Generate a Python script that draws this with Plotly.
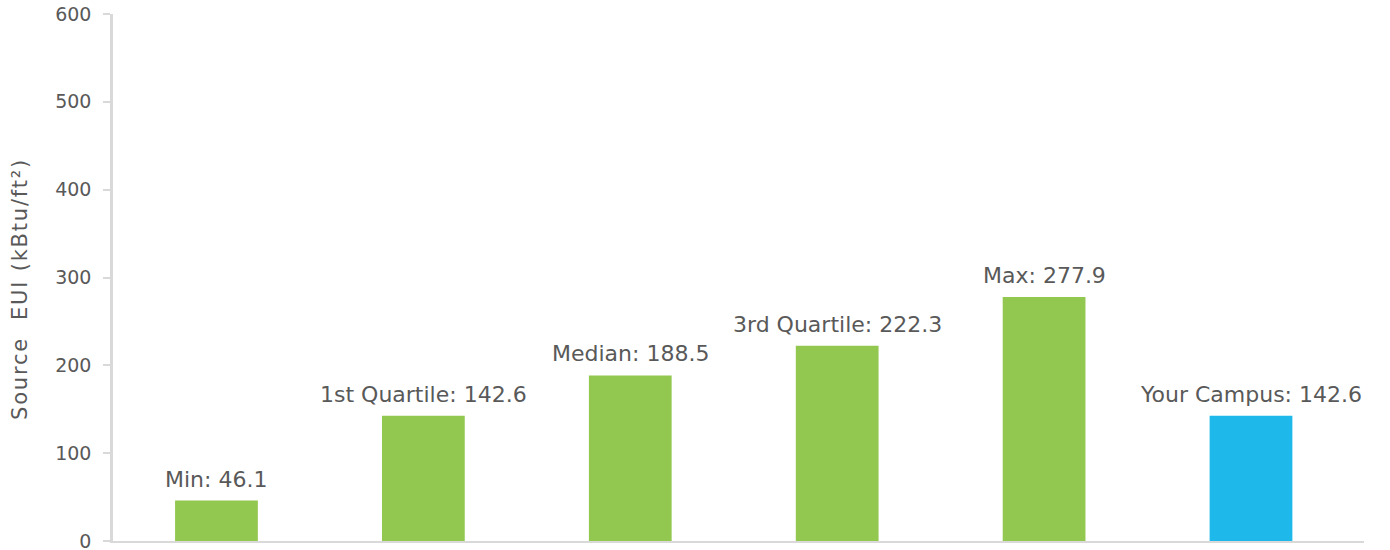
import plotly.graph_objects as go

categories = ["Min", "1st Quartile", "Median", "3rd Quartile", "Max", "Your Campus"]
values = [46.1, 142.6, 188.5, 222.3, 277.9, 142.6]
colors = ["#92C850", "#92C850", "#92C850", "#92C850", "#92C850", "#1EB9EA"]
labels = [f"{c}: {v}" for c, v in zip(categories, values)]
y_title = "Source  EUI (kBtu/ft²)"

FONT = "DejaVu Sans"
GRAY = "#595959"

fig = go.Figure(go.Bar(
    x=categories, y=values, marker=dict(color=colors, line=dict(width=0)),
    width=0.4, cliponaxis=False, hoverinfo="skip",
))
for c, v, t in zip(categories, values, labels):
    fig.add_annotation(x=c, y=v, text=t, showarrow=False, yanchor="bottom", yshift=7,
                       font=dict(size=22, color=GRAY, family=FONT))
fig.add_annotation(xref="paper", yref="paper", x=-0.0743, y=0.478, text=y_title,
                   textangle=-90, showarrow=False, xanchor="center", yanchor="middle",
                   name="ytitle", font=dict(size=21, color=GRAY, family=FONT))
fig.update_layout(
    width=1390, height=550,
    margin=dict(l=113, r=26, t=14, b=9, autoexpand=False),
    plot_bgcolor="white", paper_bgcolor="white",
    font=dict(family=FONT, color=GRAY, size=20),
    showlegend=False,
    xaxis=dict(showticklabels=False, showline=True, linecolor="#D9D9D9", linewidth=1.5,
               ticks="", showgrid=False, zeroline=False, automargin=False),
    yaxis=dict(range=[0, 600], dtick=100, showline=True, linecolor="#D9D9D9", linewidth=2.5,
               ticks="outside", tickcolor="#D9D9D9", ticklen=7, tickwidth=1.5,
               ticklabelstandoff=8, ticklabeloverflow="allow",
               showgrid=False, zeroline=False, automargin=False,
               tickfont=dict(size=19, color=GRAY, family=FONT)),
)
post = """
document.body.style.margin = '0';
document.querySelectorAll('.annotation-text').forEach(function(t){
  if (t.textContent.indexOf('Source') === 0) { t.style.letterSpacing = '1.8px'; }
});
"""
fig.write_html("out.html", post_script=post, config={"displayModeBar": False})
